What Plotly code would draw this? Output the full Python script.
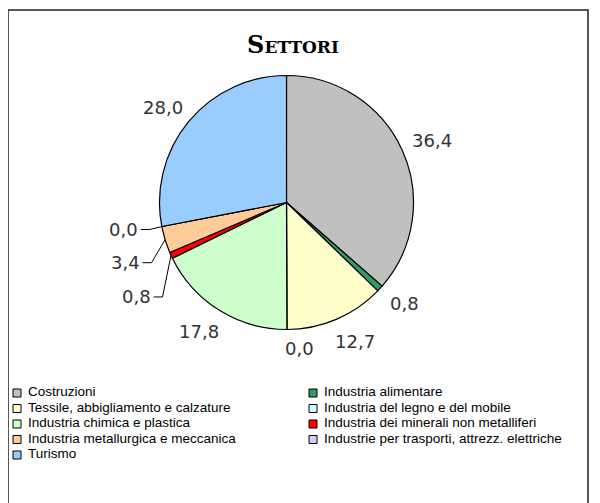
import math
import plotly.graph_objects as go

categories = [
    "Costruzioni",
    "Industria alimentare",
    "Tessile, abbigliamento e calzature",
    "Industria del legno e del mobile",
    "Industria chimica e plastica",
    "Industria dei minerali non metalliferi",
    "Industria metallurgica e meccanica",
    "Industrie per trasporti, attrezz. elettriche",
    "Turismo",
]
values = [36.4, 0.8, 12.7, 0.0, 17.8, 0.8, 3.4, 0.0, 28.0]
colors = ["#C0C0C0", "#339966", "#FFFFCC", "#CCFFFF", "#CCFFCC",
          "#FF0000", "#FFCC99", "#CCCCFF", "#99CCFF"]
title_text = "Settori"

# page offset (browser body margin) and figure size
OFF = 8
W, H = 592, 495
cx, cy, R = 286.5, 202.5, 127.0   # pie geometry in page pixels


def px(x):
    return (x - OFF) / W


def py(y):
    return 1 - (y - OFF) / H


fig = go.Figure()
fig.add_trace(go.Pie(
    labels=categories, values=values, sort=False, direction="clockwise",
    rotation=0, textinfo="none", hoverinfo="label+value", showlegend=False,
    marker=dict(colors=colors, line=dict(color="black", width=1.2)),
    domain=dict(x=[px(cx - R), px(cx + R)], y=[py(cy + R), py(cy - R)]),
))

# legend drawn as a small scatter grid (2 columns, row-major)
leg_cols = [i % 2 for i in range(len(categories))]
leg_rows = [i // 2 for i in range(len(categories))]
text_gap = 0.037  # in legend-axis units (1 unit = column spacing)
col_px = 296      # column spacing in pixels
x_max = 1.9
fig.add_trace(go.Scatter(
    x=leg_cols, y=leg_rows, mode="markers", hoverinfo="skip",
    showlegend=False, cliponaxis=False,
    marker=dict(symbol="square", size=8, color=colors,
                line=dict(color="black", width=1)),
))
fig.add_trace(go.Scatter(
    x=[c + text_gap for c in leg_cols], y=leg_rows, mode="text",
    text=categories, textposition="middle right", hoverinfo="skip",
    showlegend=False, cliponaxis=False,
    textfont=dict(family="Liberation Sans", size=13.5, color="black"),
))

# label placement (style offsets in pixels)
moved = {5: (-18.5, 41.6), 6: (-23.5, 23.0), 7: (-22.0, 3.0)}
nudge = {2: (6, 2), 3: (12, -3), 4: (-3, 2)}
label_font = dict(family="DejaVu Sans", size=18, color="#333333")

annotations = []
shapes = []
total = sum(values)
cum = 0.0
for i, v in enumerate(values):
    a0 = cum / total * 360
    cum += v
    a1 = cum / total * 360
    mid = math.radians((a0 + a1) / 2)
    s, c = math.sin(mid), math.cos(mid)
    txt = f"{v:.1f}".replace(".", ",")
    if i in moved:
        ex, ey = cx + R * s, cy - R * c
        dx, dy = moved[i]
        tx, ty = ex + dx, ey + dy
        elx = tx + 10
        shapes.append(dict(
            type="path", xref="paper", yref="paper",
            path=f"M{px(tx + 1)},{py(ty)} L{px(elx)},{py(ty)} L{px(ex)},{py(ey)}",
            line=dict(color="black", width=1),
        ))
        annotations.append(dict(
            x=px(tx), y=py(ty), xref="paper", yref="paper", text=txt,
            showarrow=False, xanchor="right", yanchor="middle", font=label_font,
        ))
    else:
        r = R + 14
        x = cx + r * s + 19 * s
        y = cy - r * c - 8 * c
        ndx, ndy = nudge.get(i, (0, 0))
        annotations.append(dict(
            x=px(x + ndx), y=py(y + ndy), xref="paper", yref="paper", text=txt,
            showarrow=False, xanchor="center", yanchor="middle", font=label_font,
        ))

# outer frame
shapes.append(dict(
    type="rect", xref="paper", yref="paper",
    x0=px(8), x1=px(588), y0=-0.1, y1=py(10),
    line=dict(color="#222222", width=1.5), fillcolor="rgba(0,0,0,0)",
))

fig.update_layout(
    width=W, height=H,
    margin=dict(l=0, r=0, t=0, b=0, autoexpand=False),
    paper_bgcolor="white", plot_bgcolor="rgba(0,0,0,0)",
    title=dict(text=title_text, x=px(293), y=py(45), xanchor="center",
               yanchor="middle",
               font=dict(family="DejaVu Serif", size=24, color="black",
                         weight="bold", variant="small-caps")),
    xaxis=dict(visible=False, range=[0, x_max],
               domain=[px(17), px(17 + col_px * x_max)], fixedrange=True),
    yaxis=dict(visible=False, range=[4, 0], domain=[py(455), py(393)],
               fixedrange=True),
    showlegend=False,
    annotations=annotations,
    shapes=shapes,
)

fig.write_html("out.html")
